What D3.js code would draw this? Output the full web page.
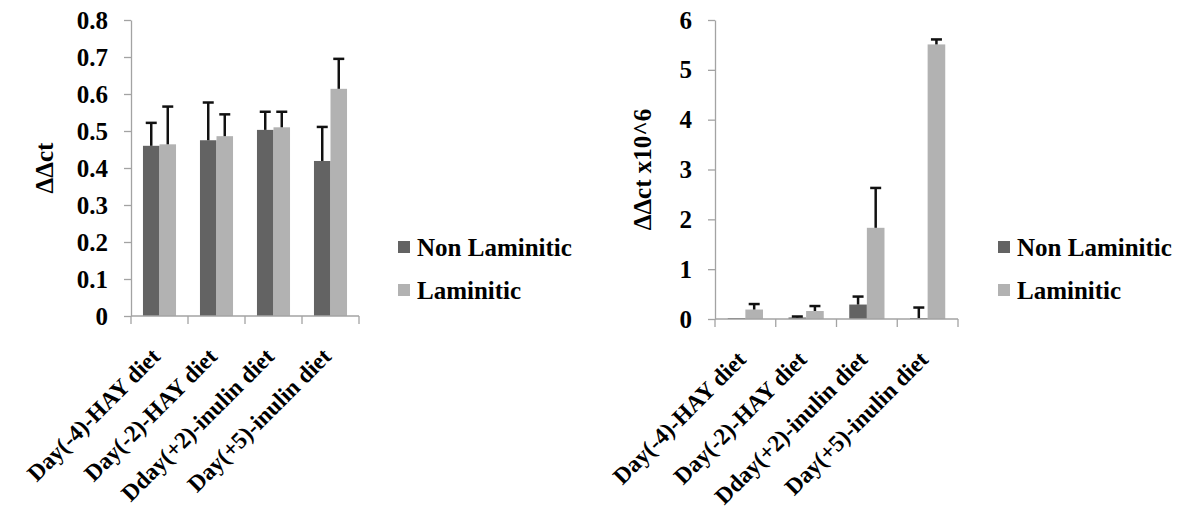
<!DOCTYPE html>
<html>
<head>
<meta charset="utf-8">
<script src="https://cdn.jsdelivr.net/npm/d3@7"></script>
<style>
  body { margin: 0; background: #fff; }
</style>
</head>
<body>
<script>
const categories = ["Day(-4)-HAY diet", "Day(-2)-HAY diet", "Dday(+2)-inulin diet", "Day(+5)-inulin diet"];
const series = ["Non Laminitic", "Laminitic"];
const colors = ["#636363", "#b2b2b2"];

// left chart: ΔΔct
const leftNon = [0.460, 0.475, 0.503, 0.419];
const leftNonErr = [0.062, 0.102, 0.049, 0.092];
const leftLam = [0.464, 0.486, 0.510, 0.614];
const leftLamErr = [0.102, 0.059, 0.042, 0.081];
const leftTicks = [0, 0.1, 0.2, 0.3, 0.4, 0.5, 0.6, 0.7, 0.8];

// right chart: ΔΔct x10^6
const rightNon = [0.02, 0.03, 0.29, 0.02];
const rightNonErr = [0, 0.02, 0.16, 0.21];
const rightLam = [0.19, 0.16, 1.83, 5.51];
const rightLamErr = [0.11, 0.10, 0.80, 0.10];
const rightTicks = [0, 1, 2, 3, 4, 5, 6];

const font = '"Liberation Serif", "Times New Roman", serif';

const svg = d3.select("body").append("svg")
  .attr("width", 1177)
  .attr("height", 510);

function styleText(sel, size) {
  sel.style("font-family", font)
    .style("font-weight", "bold")
    .style("font-size", size + "px")
    .attr("fill", "#000");
}

function drawChart(opt) {
  const g = svg.append("g");

  const x = d3.scaleBand()
    .domain(categories)
    .range([opt.left, opt.right])
    .paddingInner(0.42)
    .paddingOuter(0.21);

  const x1 = d3.scaleBand()
    .domain(series)
    .range([0, x.bandwidth()]);

  const y = d3.scaleLinear()
    .domain([0, opt.max])
    .range([opt.bottom, opt.top]);

  const rows = [];
  categories.forEach((c, i) => {
    rows.push({cat: c, s: series[0], v: opt.non[i], e: opt.nonErr[i], color: colors[0]});
    rows.push({cat: c, s: series[1], v: opt.lam[i], e: opt.lamErr[i], color: colors[1]});
  });

  g.selectAll("rect.bar")
    .data(rows)
    .enter()
    .append("rect")
    .attr("class", "bar")
    .attr("x", d => x(d.cat) + x1(d.s))
    .attr("y", d => y(d.v))
    .attr("width", x1.bandwidth())
    .attr("height", d => y(0) - y(d.v))
    .attr("fill", d => d.color);

  // error bars (plus only)
  const errs = rows.filter(d => d.e > 0);
  const cx = d => x(d.cat) + x1(d.s) + x1.bandwidth() / 2;
  g.selectAll("line.err")
    .data(errs)
    .enter()
    .append("line")
    .attr("x1", cx)
    .attr("x2", cx)
    .attr("y1", d => y(d.v))
    .attr("y2", d => y(d.v + d.e))
    .attr("stroke", "#111")
    .attr("stroke-width", 2.5);
  g.selectAll("line.cap")
    .data(errs)
    .enter()
    .append("line")
    .attr("x1", d => cx(d) - 5.5)
    .attr("x2", d => cx(d) + 5.5)
    .attr("y1", d => y(d.v + d.e))
    .attr("y2", d => y(d.v + d.e))
    .attr("stroke", "#111")
    .attr("stroke-width", 2.5);

  // y axis
  const yAxis = d3.axisLeft(y)
    .tickValues(opt.ticks)
    .tickSize(7)
    .tickSizeOuter(0)
    .tickPadding(16)
    .tickFormat(opt.fmt);
  const ya = g.append("g")
    .attr("transform", "translate(" + opt.left + ",0)")
    .call(yAxis);
  ya.selectAll("path, line").attr("stroke", "#a3a3a3").attr("stroke-width", 1.3);
  styleText(ya.selectAll("text"), 25);

  // x axis with boundary ticks
  const xa = g.append("g");
  xa.append("line")
    .attr("x1", opt.left)
    .attr("x2", opt.right)
    .attr("y1", y(0))
    .attr("y2", y(0))
    .attr("stroke", "#a3a3a3")
    .attr("stroke-width", 1.3);
  const bounds = d3.range(categories.length + 1).map(i => opt.left + i * x.step());
  xa.selectAll("line.tick")
    .data(bounds)
    .enter()
    .append("line")
    .attr("x1", d => d)
    .attr("x2", d => d)
    .attr("y1", y(0))
    .attr("y2", y(0) + 8)
    .attr("stroke", "#a3a3a3")
    .attr("stroke-width", 1.3);
  const xl = xa.selectAll("text")
    .data(categories)
    .enter()
    .append("text")
    .attr("text-anchor", "end")
    .attr("transform", d => "translate(" + (x(d) + x.bandwidth() / 2 + 2) + "," + (y(0) + 42) + ") rotate(-45)")
    .text(d => d);
  styleText(xl, 23.5);

  // y title
  const t = g.append("text")
    .attr("text-anchor", "middle")
    .attr("transform", "translate(" + opt.titleX + "," + (opt.top + opt.bottom) / 2 + ") rotate(-90)")
    .text(opt.title);
  styleText(t, 25);

  // legend
  series.forEach((s, i) => {
    g.append("rect")
      .attr("x", opt.legendX)
      .attr("y", 241 + i * 43)
      .attr("width", 12)
      .attr("height", 12)
      .attr("fill", colors[i]);
    const lt = g.append("text")
      .attr("x", opt.legendX + 19)
      .attr("y", 256 + i * 43)
      .text(s);
    styleText(lt, 25);
  });
}

drawChart({
  left: 131, right: 359, top: 20, bottom: 316, max: 0.8,
  non: leftNon, nonErr: leftNonErr, lam: leftLam, lamErr: leftLamErr,
  ticks: leftTicks, fmt: d => d === 0 ? "0" : d3.format(".1f")(d),
  title: "ΔΔct", titleX: 53, legendX: 398
});

drawChart({
  left: 715, right: 958, top: 20, bottom: 319, max: 6,
  non: rightNon, nonErr: rightNonErr, lam: rightLam, lamErr: rightLamErr,
  ticks: rightTicks, fmt: d3.format("d"),
  title: "ΔΔct x10^6", titleX: 651, legendX: 998
});
</script>
</body>
</html>
